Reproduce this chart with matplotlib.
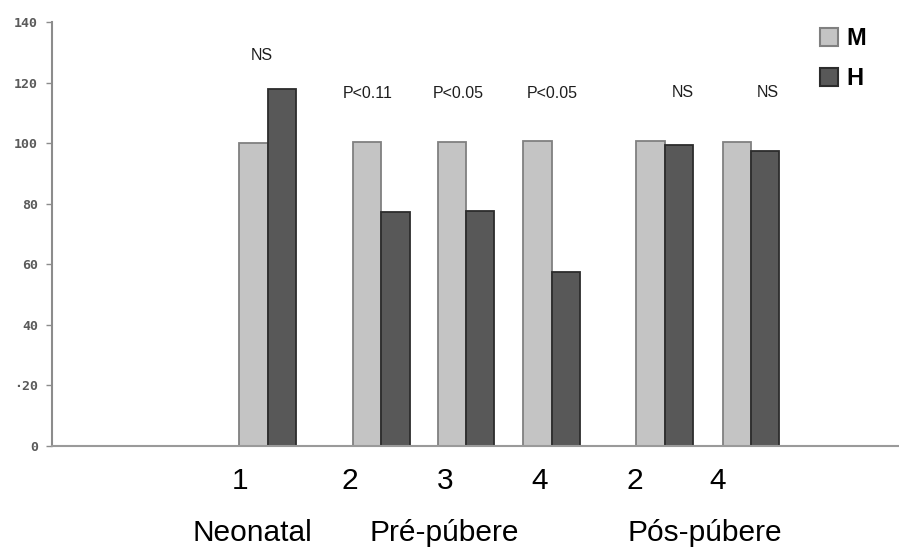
import matplotlib
matplotlib.use("Agg")
import matplotlib.pyplot as plt
from matplotlib.patches import Patch

# relative values (M = 100) per age group / stage
stages = ["1", "2", "3", "4", "2", "4"]
groups = ["Neonatal", "Pré-púbere", "Pós-púbere"]
m_vals = [100.2, 100.4, 100.5, 100.8, 100.6, 100.5]
h_vals = [118.0, 77.4, 77.5, 57.6, 99.3, 97.3]
signif = ["NS", "P<0.11", "P<0.05", "P<0.05", "NS", "NS"]
series = ["M", "H"]
yticks = [0, 20, 40, 60, 80, 100, 120, 140]
ytick_labels = ["0", "·20", "40", "60", "80", "100", "120", "140"]

# layout (x in bar-slot units)
pair_x = [1.0, 2.327, 3.316, 4.32, 5.643, 6.649]
bar_w = 0.333
stage_x = [0.672, 1.959, 3.07, 4.18, 5.29, 6.26]
group_x = [0.813, 3.058, 6.11]
sig_x = [0.93, 2.17, 3.23, 4.32, 5.85, 6.84]
sig_y = [129, 116.5, 116.5, 116.5, 116.8, 116.8]

m_col, m_edge = "#c4c4c4", "#808080"
h_col, h_edge = "#585858", "#2c2c2c"
sans = "Liberation Sans"

fig = plt.figure(figsize=(8.99, 5.51), dpi=100)
ax = fig.add_axes([0.0578, 0.1906, 0.9422, 0.7694])

ax.bar([x - bar_w / 2 for x in pair_x], m_vals, width=bar_w,
       color=m_col, edgecolor=m_edge, linewidth=1.3, zorder=2)
ax.bar([x + bar_w / 2 for x in pair_x], h_vals, width=bar_w,
       color=h_col, edgecolor=h_edge, linewidth=1.3, zorder=2)

ax.set_xlim(-1.526, 8.38)
ax.set_ylim(0, 140)

for s in ["top", "right"]:
    ax.spines[s].set_visible(False)
ax.spines["left"].set_color("#8c8c8c")
ax.spines["left"].set_linewidth(1.5)
ax.spines["bottom"].set_color("#9a9a9a")
ax.spines["bottom"].set_linewidth(1.5)

ax.set_xticks([])
ax.set_yticks(yticks)
ax.set_yticklabels(ytick_labels, fontfamily="DejaVu Sans Mono",
                   fontsize=9.5, fontweight="bold", color="#5a5a5a")
ax.tick_params(axis="y", length=4, width=1, color="#8c8c8c", pad=6)

for x, t, y in zip(sig_x, signif, sig_y):
    ax.text(x, y, t, ha="center", va="center", fontsize=11.5,
            family=sans, color="#1e1e1e")

for x, t in zip(stage_x, stages):
    ax.text(x, -11.6, t, ha="center", va="center", fontsize=21.5,
            family=sans, color="black")
for x, t in zip(group_x, groups):
    ax.text(x, -28.8, t, ha="center", va="center", fontsize=21.5,
            family=sans, color="black")

handles = [Patch(facecolor=m_col, edgecolor=m_edge, linewidth=1.5),
           Patch(facecolor=h_col, edgecolor=h_edge, linewidth=1.5)]
leg = ax.legend(handles, series, loc="upper left",
                bbox_to_anchor=(820 / 899, 1 - 27 / 551),
                bbox_transform=fig.transFigure, frameon=False,
                prop={"family": sans, "weight": "bold", "size": 17},
                handlelength=0.75, handleheight=0.8, handletextpad=0.35,
                labelspacing=0.72, borderpad=0, borderaxespad=0)

fig.savefig("out.png", dpi=100)
